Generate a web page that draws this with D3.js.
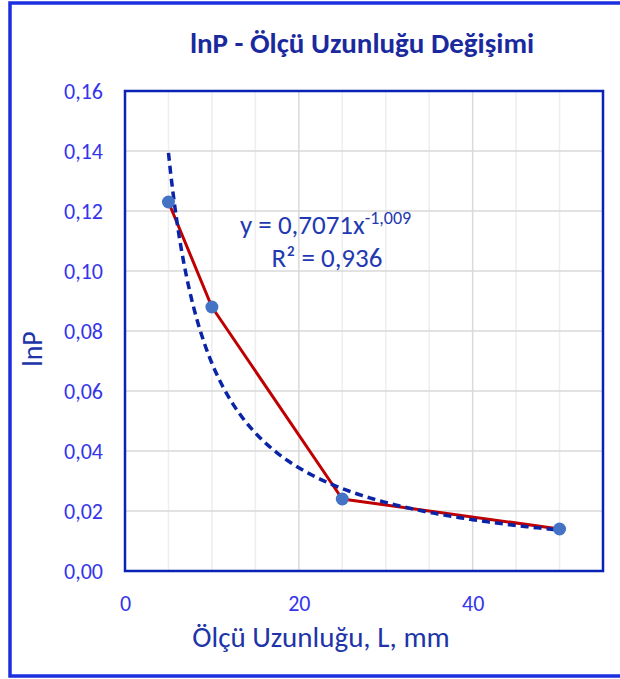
<!DOCTYPE html>
<html>
<head>
<meta charset="utf-8">
<script src="https://cdn.jsdelivr.net/npm/d3@7"></script>
<style>
  body { margin: 0; background: #fff; }
  svg text { font-family: Carlito, Calibri, Lato, sans-serif; }
</style>
</head>
<body>
<div id="viz"></div>
<script>
const width = 620;
const height = 679;
const margin = {top: 91, right: 17, bottom: 108, left: 125};

// values
const lengths = [5, 10, 25, 50];
const lnP = [0.123, 0.088, 0.024, 0.014];
const xTicks = [0, 20, 40];
const yTicks = [0, 0.02, 0.04, 0.06, 0.08, 0.10, 0.12, 0.14, 0.16];
// power trendline shown on the chart: y = a * x^b
const trendCoef = [0.7071, -1.009];
const trendRange = [5, 50];

const points = lengths.map((L, i) => ({L: L, p: lnP[i]}));

const fmt = d3.format('.2f');
const comma = s => s.replace('.', ',');

const scaleX = d3.scaleLinear()
  .domain([0, 55])
  .range([margin.left, width - margin.right]);

const scaleY = d3.scaleLinear()
  .domain([0, 0.16])
  .range([height - margin.bottom, margin.top]);

const svg = d3.select('#viz')
  .append('svg')
    .attr('width', width)
    .attr('height', height);

// outer chart border (right side runs off the picture)
svg.append('rect')
  .attr('x', 10)
  .attr('y', 3)
  .attr('width', width + 20)
  .attr('height', 673)
  .attr('fill', '#fff')
  .attr('stroke', '#1c2fe0')
  .attr('stroke-width', 3.5);

// title
svg.append('text')
  .attr('x', 362)
  .attr('y', 53)
  .attr('text-anchor', 'middle')
  .attr('fill', '#1a2a9e')
  .style('font-size', '29px')
  .style('font-weight', 'bold')
  .text('lnP - Ölçü Uzunluğu Değişimi');

// gridlines
const grid = svg.append('g');
grid.selectAll('line.vminor')
  .data(d3.range(5, 55, 5).filter(v => v % 20 !== 0))
  .join('line')
    .attr('x1', d => scaleX(d)).attr('x2', d => scaleX(d))
    .attr('y1', scaleY(0)).attr('y2', scaleY(0.16))
    .attr('stroke', '#eeeeee')
    .attr('stroke-width', 1.5);
grid.selectAll('line.vmajor')
  .data(xTicks.filter(v => v > 0))
  .join('line')
    .attr('x1', d => scaleX(d)).attr('x2', d => scaleX(d))
    .attr('y1', scaleY(0)).attr('y2', scaleY(0.16))
    .attr('stroke', '#d9d9d9')
    .attr('stroke-width', 1.5);
grid.selectAll('line.h')
  .data(yTicks.slice(1, -1))
  .join('line')
    .attr('x1', scaleX(0)).attr('x2', scaleX(55))
    .attr('y1', d => scaleY(d)).attr('y2', d => scaleY(d))
    .attr('stroke', '#d9d9d9')
    .attr('stroke-width', 1.5);

// plot frame
svg.append('rect')
  .attr('x', scaleX(0))
  .attr('y', scaleY(0.16))
  .attr('width', scaleX(55) - scaleX(0))
  .attr('height', scaleY(0) - scaleY(0.16))
  .attr('fill', 'none')
  .attr('stroke', '#0a22b4')
  .attr('stroke-width', 2.5);

// axes (labels only)
const axisLeft = d3.axisLeft(scaleY)
  .tickValues(yTicks)
  .tickFormat(d => comma(fmt(d)))
  .tickSize(0)
  .tickPadding(22);
svg.append('g')
  .attr('transform', `translate(${margin.left},0)`)
  .call(axisLeft)
  .call(g => g.select('.domain').remove())
  .call(g => g.selectAll('text')
    .attr('fill', '#3535ea')
    .style('font-size', '22px')
    .style('font-family', 'Carlito, Calibri, Lato, sans-serif'));

const axisBottom = d3.axisBottom(scaleX)
  .tickValues(xTicks)
  .tickFormat(d3.format('d'))
  .tickSize(0)
  .tickPadding(24);
svg.append('g')
  .attr('transform', `translate(0,${height - margin.bottom})`)
  .call(axisBottom)
  .call(g => g.select('.domain').remove())
  .call(g => g.selectAll('text')
    .attr('fill', '#3535ea')
    .style('font-size', '22px')
    .style('font-family', 'Carlito, Calibri, Lato, sans-serif'));

// axis titles
svg.append('text')
  .attr('x', 321)
  .attr('y', 647)
  .attr('text-anchor', 'middle')
  .attr('fill', '#2034a8')
  .style('font-size', '29px')
  .text('Ölçü Uzunluğu, L, mm');

svg.append('text')
  .attr('transform', 'translate(42, 349) rotate(-90)')
  .attr('text-anchor', 'middle')
  .attr('fill', '#2034a8')
  .style('font-size', '28px')
  .text('lnP');

// measured series (red line with markers)
const line = d3.line()
  .x(d => scaleX(d.L))
  .y(d => scaleY(d.p));

svg.append('path')
  .datum(points)
  .attr('d', line)
  .attr('fill', 'none')
  .attr('stroke', '#c00000')
  .attr('stroke-width', 3)
  .attr('stroke-linejoin', 'round');

// power trendline
const trend = d3.range(trendRange[0], trendRange[1] + 0.01, 0.25)
  .map(L => ({L: L, p: trendCoef[0] * Math.pow(L, trendCoef[1])}));

svg.append('path')
  .datum(trend)
  .attr('d', line)
  .attr('fill', 'none')
  .attr('stroke', '#0a24a8')
  .attr('stroke-width', 3.5)
  .attr('stroke-dasharray', '8,5');

svg.append('g')
  .selectAll('circle')
  .data(points)
  .join('circle')
    .attr('cx', d => scaleX(d.L))
    .attr('cy', d => scaleY(d.p))
    .attr('r', 6.5)
    .attr('fill', '#4472c4');

// trendline label
const eq = svg.append('text')
  .attr('x', 240)
  .attr('y', 234)
  .attr('fill', '#1f3ab0')
  .style('font-size', '27px');
eq.append('tspan').text('y = 0,7071x');
eq.append('tspan')
  .attr('dy', -10)
  .style('font-size', '18px')
  .text('-1,009');

svg.append('text')
  .attr('x', 327)
  .attr('y', 267)
  .attr('text-anchor', 'middle')
  .attr('fill', '#1f3ab0')
  .style('font-size', '27px')
  .text('R² = 0,936');
</script>
</body>
</html>
